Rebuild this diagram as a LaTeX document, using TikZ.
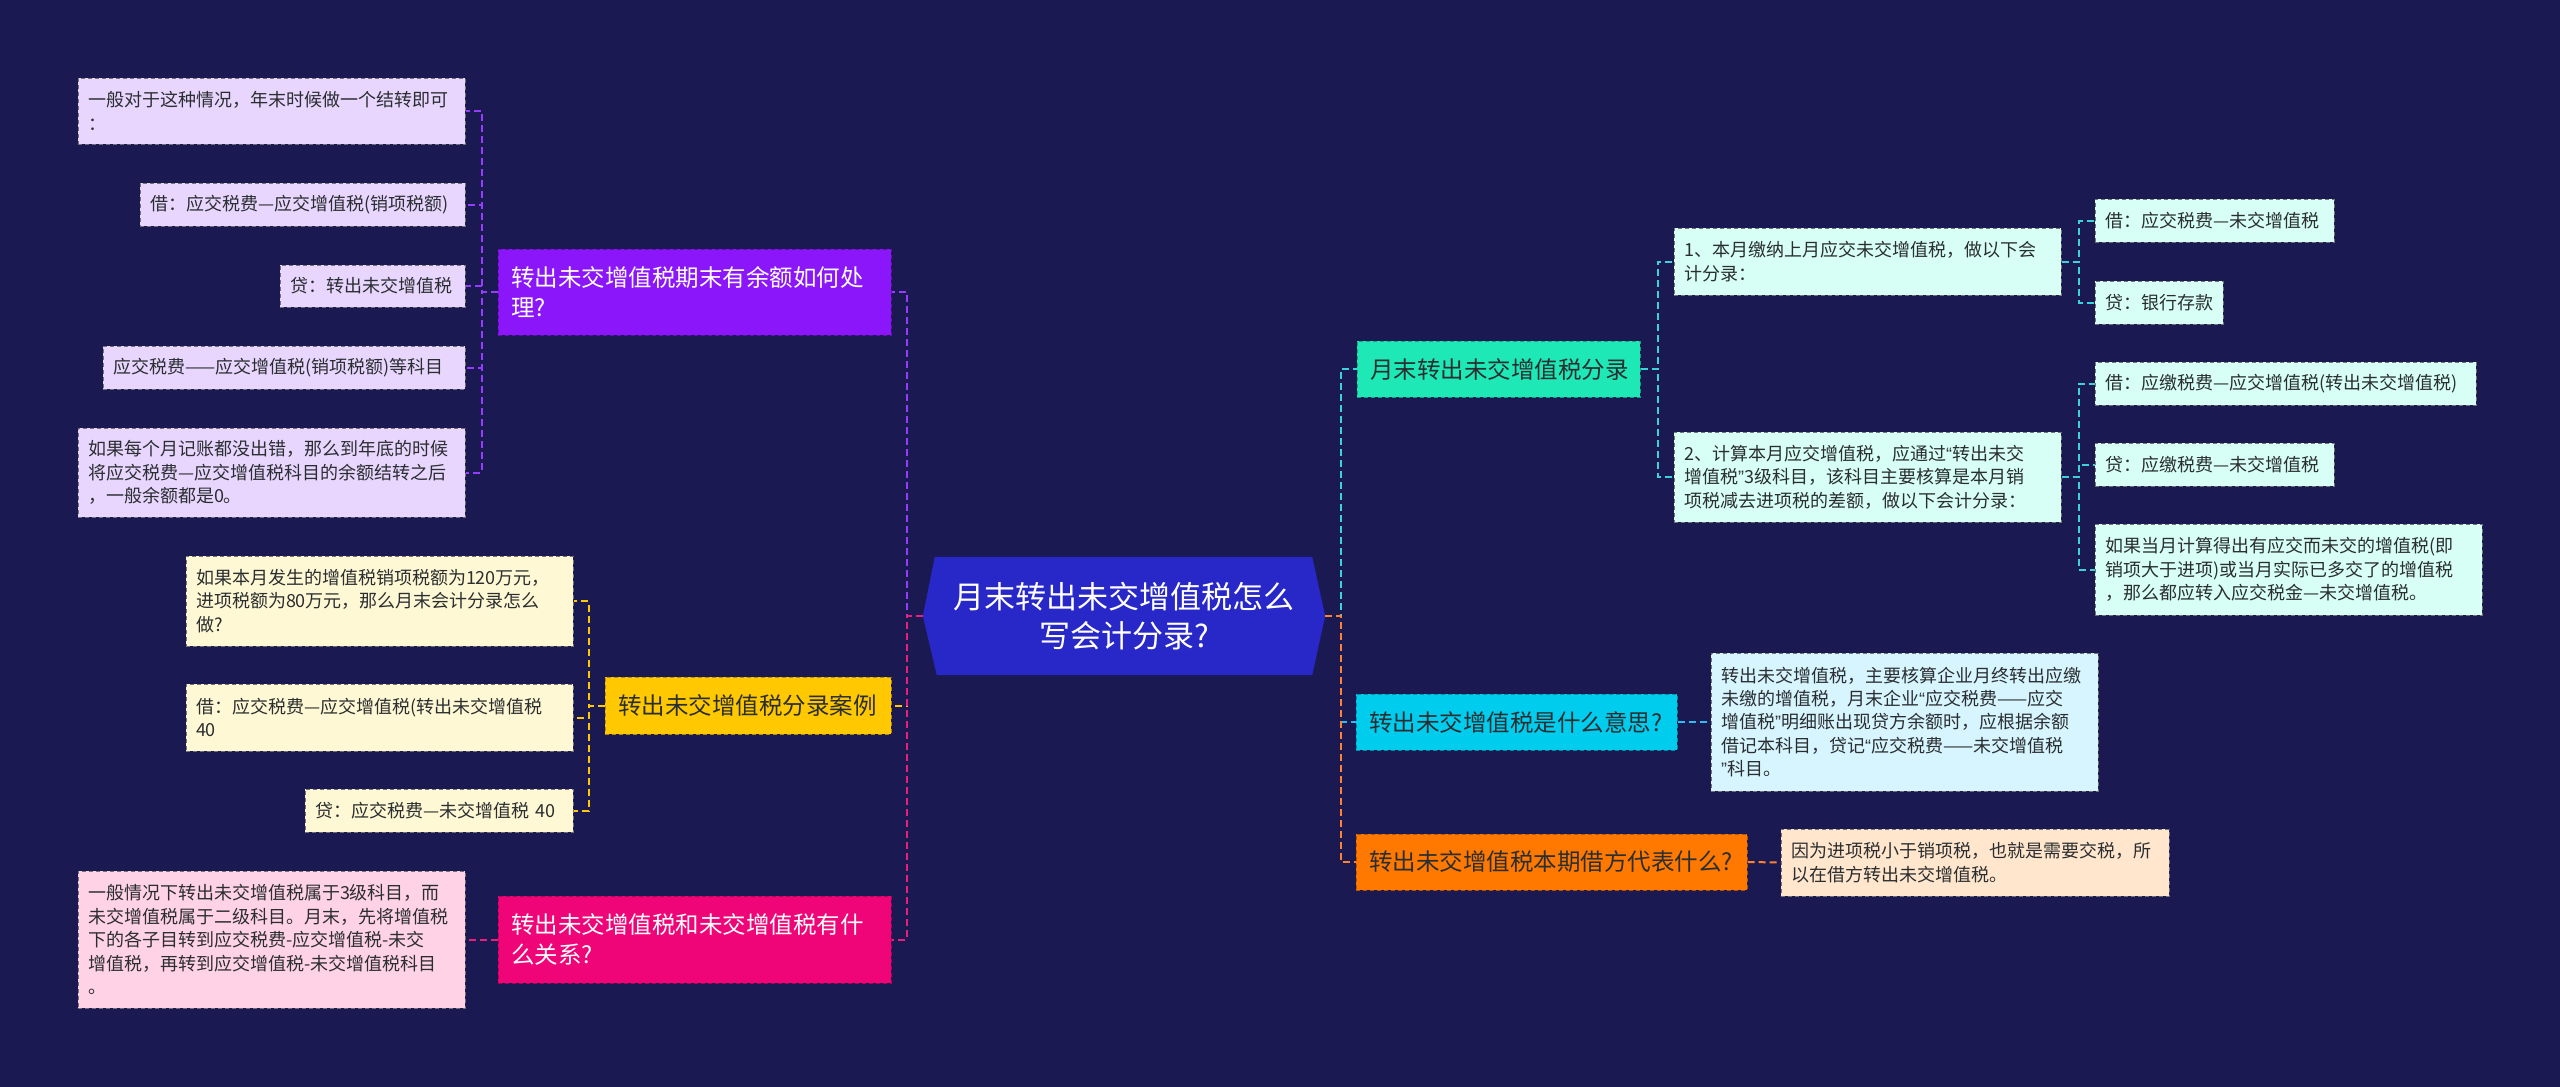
\documentclass[tikz,border=0pt]{standalone}
\usepackage{fontspec}
\setmainfont{Noto Sans CJK SC}
\newfontfamily\qfont{Liberation Sans}
\newcommand\oq{{\qfont “}}
\newcommand\cq{{\qfont ”}}
\usetikzlibrary{backgrounds}
\exhyphenpenalty=10000
\hyphenpenalty=10000
\definecolor{bgc}{RGB}{26,25,82}
\definecolor{rootc}{RGB}{40,40,200}
\definecolor{txt}{RGB}{42,46,48}
\definecolor{cPurple}{RGB}{140,22,250}
\definecolor{fPurple}{RGB}{232,214,255}
\definecolor{lPurple}{RGB}{150,60,255}
\definecolor{cYellow}{RGB}{255,200,0}
\definecolor{fYellow}{RGB}{255,248,212}
\definecolor{lYellow}{RGB}{255,200,0}
\definecolor{cMagenta}{RGB}{240,5,120}
\definecolor{fMagenta}{RGB}{255,210,230}
\definecolor{lMagenta}{RGB}{235,30,125}
\definecolor{cTeal}{RGB}{30,233,182}
\definecolor{fTeal}{RGB}{215,255,245}
\definecolor{lTeal}{RGB}{60,210,220}
\definecolor{cCyan}{RGB}{0,204,238}
\definecolor{fCyan}{RGB}{215,245,255}
\definecolor{lCyan}{RGB}{40,190,240}
\definecolor{cOrange}{RGB}{255,120,0}
\definecolor{fOrange}{RGB}{255,230,205}
\definecolor{lOrange}{RGB}{255,130,50}
\newcommand\bx[8]{%
 \pgfmathsetmacro\bxw{#4-#2}\pgfmathsetmacro\bxh{#5-#3}%
 \pgfmathsetmacro\bxcx{(#2+#4)/2}\pgfmathsetmacro\bxcy{(#3+#5)/2}%
 \pgfmathsetmacro\bxtw{#4-#2-2*#6}%
 \node[#7, inner xsep=#6pt, inner ysep=0pt, minimum width=\bxw pt, minimum height=\bxh pt, text width=\bxtw pt, align=left] (#1) at (\bxcx,\bxcy) {#8};}
\tikzset{
 leafbox/.style={fill=#1, draw=black!55, dash pattern=on 4pt off 3pt, line width=1pt, text=txt, font=\fontsize{18}{23.4}\selectfont},
 branchbox/.style={fill=#1, draw=#1!70!black, dash pattern=on 4pt off 3pt, line width=1pt, font=\fontsize{23.5}{30}\selectfont},
 conn/.style={line width=2pt, dash pattern=on 7pt off 4pt, draw=#1},
}
\begin{document}
\begin{tikzpicture}[x=1pt,y=-1pt]
\useasboundingbox (0,0) rectangle (2560,1087);
\begin{pgfonlayer}{background}
\fill[bgc] (0,0) rectangle (2560,1087);
\end{pgfonlayer}
% root
\node[minimum width=402pt, minimum height=118pt, inner sep=0pt, align=center, text=white, font=\fontsize{31}{39}\selectfont] (root) at (1124,616) {月末转出未交增值税怎么\\写会计分录?};
\begin{pgfonlayer}{background}
\fill[rootc] ([xshift=12pt]root.north west) -- ([xshift=-13pt]root.north east) -- (root.east) -- ([xshift=-13pt]root.south east) -- ([xshift=14pt]root.south west) -- (root.west) -- cycle;
\end{pgfonlayer}
% left branches
\bx{b1}{498}{249}{891}{335}{13}{branchbox=cPurple, text=white}{转出未交增值税期末有余额如何处\\理?}
\bx{b2}{605}{677}{891}{734}{13}{branchbox=cYellow, text=txt}{转出未交增值税分录案例}
\bx{b4}{498}{896}{891}{983}{13}{branchbox=cMagenta, text=white}{转出未交增值税和未交增值税有什\\么关系?}
\bx{l1a}{78}{78}{465}{144}{10}{leafbox=fPurple}{一般对于这种情况，年末时候做一个结转即可\\：}
\bx{l1b}{140}{183}{465}{226}{10}{leafbox=fPurple}{借：应交税费—应交增值税(销项税额)}
\bx{l1c}{280}{265}{465}{307}{10}{leafbox=fPurple}{贷：转出未交增值税}
\bx{l1d}{103}{346}{465}{389}{10}{leafbox=fPurple}{应交税费——应交增值税(销项税额)等科目}
\bx{l1e}{78}{428}{465}{517}{10}{leafbox=fPurple}{如果每个月记账都没出错，那么到年底的时候\\将应交税费—应交增值税科目的余额结转之后\\，一般余额都是0。}
\bx{l2a}{186}{556}{573}{646}{10}{leafbox=fYellow}{如果本月发生的增值税销项税额为120万元，\\进项税额为80万元，那么月末会计分录怎么\\做?}
\bx{l2b}{186}{684}{573}{751}{10}{leafbox=fYellow}{借：应交税费—应交增值税(转出未交增值税\\40}
\bx{l2c}{305}{789}{573}{832}{10}{leafbox=fYellow}{贷：应交税费—未交增值税~40}
\bx{l4a}{78}{871}{465}{1008}{10}{leafbox=fMagenta}{一般情况下转出未交增值税属于3级科目，而\\未交增值税属于二级科目。月末，先将增值税\\下的各子目转到应交税费-应交增值税-未交\\增值税，再转到应交增值税-未交增值税科目\\。}
% right branches
\bx{b3}{1357}{341}{1640}{397}{13}{branchbox=cTeal, text=txt}{月末转出未交增值税分录}
\bx{b5}{1356}{694}{1677}{750}{13}{branchbox=cCyan, text=txt}{转出未交增值税是什么意思?}
\bx{b6}{1356}{834}{1747}{890}{13}{branchbox=cOrange, text=txt}{转出未交增值税本期借方代表什么?}
\bx{s1}{1674}{228}{2061}{295}{10}{leafbox=fTeal}{1、本月缴纳上月应交未交增值税，做以下会\\计分录：}
\bx{s2}{1674}{432}{2061}{522}{10}{leafbox=fTeal}{2、计算本月应交增值税，应通过\oq 转出未交\\增值税\cq 3级科目，该科目主要核算是本月销\\项税减去进项税的差额，做以下会计分录：}
\bx{s1a}{2095}{199}{2334}{242}{10}{leafbox=fTeal}{借：应交税费—未交增值税}
\bx{s1b}{2095}{281}{2223}{324}{10}{leafbox=fTeal}{贷：银行存款}
\bx{s2a}{2095}{362}{2476}{405}{10}{leafbox=fTeal}{借：应缴税费—应交增值税(转出未交增值税)}
\bx{s2b}{2095}{443}{2334}{486}{10}{leafbox=fTeal}{贷：应缴税费—未交增值税}
\bx{s2c}{2095}{524}{2482}{615}{10}{leafbox=fTeal}{如果当月计算得出有应交而未交的增值税(即\\销项大于进项)或当月实际已多交了的增值税\\，那么都应转入应交税金—未交增值税。}
\bx{l5}{1711}{653}{2098}{791}{10}{leafbox=fCyan}{转出未交增值税，主要核算企业月终转出应缴\\未缴的增值税，月末企业\oq 应交税费——应交\\增值税\cq 明细账出现贷方余额时，应根据余额\\借记本科目，贷记\oq 应交税费——未交增值税\\\cq 科目。}
\bx{l6}{1781}{829}{2169}{896}{10}{leafbox=fOrange}{因为进项税小于销项税，也就是需要交税，所\\以在借方转出未交增值税。}
% connectors left
\draw[conn=lPurple] (root.west) -- ++(-16,0) |- (b1.east);
\draw[conn=lYellow] (root.west) -- ++(-16,0) |- (b2.east);
\draw[conn=lMagenta] (root.west) -- ++(-16,0) |- (b4.east);
\foreach \n in {l1a,l1b,l1c,l1d,l1e}{\draw[conn=lPurple] (b1.west) -- ++(-16,0) |- (\n.east);}
\foreach \n in {l2a,l2b,l2c}{\draw[conn=lYellow] (b2.west) -- ++(-16,0) |- (\n.east);}
\draw[conn=lMagenta] (b4.west) -- (l4a.east);
% connectors right
\draw[conn=lTeal] (root.east) -- ++(16,0) |- (b3.west);
\draw[conn=lCyan] (root.east) -- ++(16,0) |- (b5.west);
\draw[conn=lOrange] (root.east) -- ++(16,0) |- (b6.west);
\foreach \n in {s1,s2}{\draw[conn=lTeal] (b3.east) -- ++(17,0) |- (\n.west);}
\foreach \n in {s1a,s1b}{\draw[conn=lTeal] (s1.east) -- ++(17,0) |- (\n.west);}
\foreach \n in {s2a,s2b,s2c}{\draw[conn=lTeal] (s2.east) -- ++(17,0) |- (\n.west);}
\draw[conn=lCyan] (b5.east) -- (l5.west);
\draw[conn=lOrange] (b6.east) -- (l6.west);
\end{tikzpicture}
\end{document}
